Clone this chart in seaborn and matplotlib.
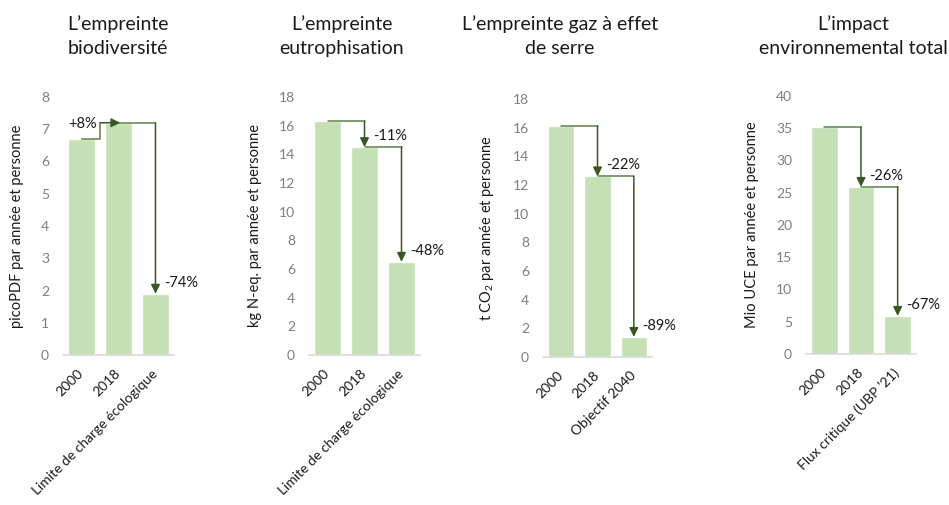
import matplotlib
matplotlib.use("Agg")
import matplotlib.pyplot as plt
import seaborn as sns
import pandas as pd

# data
cats_bio = ["2000", "2018", "Limite de charge écologique"]
vals_bio = [6.7, 7.2, 1.9]
cats_eut = ["2000", "2018", "Limite de charge écologique"]
vals_eut = [16.3, 14.5, 6.5]
cats_ghg = ["2000", "2018", "Objectif 2040"]
vals_ghg = [16.1, 12.6, 1.4]
cats_tot = ["2000", "2018", "Flux critique (UBP ’21)"]
vals_tot = [35.2, 25.9, 5.9]

pct_bio = ["+8%", "-74%"]
pct_eut = ["-11%", "-48%"]
pct_ghg = ["-22%", "-89%"]
pct_tot = ["-26%", "-67%"]

titles = ["L’empreinte\nbiodiversité", "L’empreinte\neutrophisation",
          "L’empreinte gaz à effet\nde serre", "L’impact\nenvironnemental total"]
ylabels = ["picoPDF par année et personne", "kg N-eq. par année et personne",
           r"t CO$_\mathregular{2}$ par année et personne", "Mio UCE par année et personne"]
ymax = [8, 18, 18, 40]
ystep = [1, 2, 2, 5]

sns.set_theme(style="white")
plt.rcParams["font.family"] = ["Lato", "DejaVu Sans"]

BAR = "#C5E0B4"
LINE = "#5E8048"
HEAD = "#385723"

fig = plt.figure(figsize=(9.49, 5.05), dpi=100)
rects = [
    [63 / 949, 0.297, 111 / 949, 0.511],
    [309 / 949, 0.297, 111 / 949, 0.511],
    [543 / 949, 0.293, 109 / 949, 0.511],
    [806 / 949, 0.299, 110 / 949, 0.511],
]
title_x = [118, 342, 560, 853]

panels = [
    (cats_bio, vals_bio, pct_bio),
    (cats_eut, vals_eut, pct_eut),
    (cats_ghg, vals_ghg, pct_ghg),
    (cats_tot, vals_tot, pct_tot),
]

for k, (cats, vals, pcts) in enumerate(panels):
    ax = fig.add_axes(rects[k])
    df = pd.DataFrame({"cat": cats, "val": vals})
    sns.barplot(data=df, x="cat", y="val", color=BAR, saturation=1,
                width=0.72, ax=ax)
    ax.set_xlim(-0.5, 2.5)
    ax.set_ylim(0, ymax[k])
    ax.set_yticks(range(0, ymax[k] + 1, ystep[k]))
    ax.set_xlabel("")
    ax.set_ylabel(ylabels[k], fontsize=10.5, color="#1a1a1a", labelpad=12)
    for s in ["top", "right", "left"]:
        ax.spines[s].set_visible(False)
    ax.spines["bottom"].set_color("#D9D9D9")
    ax.spines["bottom"].set_linewidth(1.2)
    ax.tick_params(axis="y", length=0, labelsize=10, labelcolor="#7F7F7F", pad=10)
    ax.tick_params(axis="x", length=0, labelsize=10, labelcolor="#1a1a1a", pad=12)
    for lab in ax.get_xticklabels():
        lab.set_rotation(45)
        lab.set_ha("right")
        lab.set_va("center")
        lab.set_rotation_mode("anchor")

    # connectors between bars
    for i in range(2):
        v0, v1 = vals[i], vals[i + 1]
        if v1 > v0:
            ax.plot([i, i + 0.5, i + 0.5], [v0, v0, v1], color=LINE, lw=1.1,
                    solid_capstyle="butt", zorder=3)
            ax.annotate("", xy=(i + 1.05, v1), xytext=(i + 0.5, v1),
                        arrowprops=dict(arrowstyle="-|>,head_length=0.45,head_width=0.22",
                                        color=HEAD, lw=1.1, shrinkA=0, shrinkB=0),
                        zorder=4)
            ax.annotate(pcts[i], xy=(i + 0.5, v1), xytext=(-2, -1),
                        textcoords="offset points", ha="right", va="center",
                        fontsize=10.5, color="#1a1a1a")
        else:
            ax.plot([i, i + 1], [v0, v0], color=LINE, lw=1.1, zorder=3)
            ax.annotate("", xy=(i + 1, v1), xytext=(i + 1, v0),
                        arrowprops=dict(arrowstyle="-|>,head_length=0.45,head_width=0.22",
                                        color=HEAD, lw=1.1, shrinkA=0, shrinkB=0),
                        zorder=4)
            ax.annotate(pcts[i], xy=(i + 1, v1), xytext=(6, 8),
                        textcoords="offset points", ha="left", va="center",
                        fontsize=10.5, color="#1a1a1a")

    fig.text(title_x[k] / 949, 1 - 36 / 505, titles[k], ha="center", va="center",
             fontsize=14, color="#1a1a1a", linespacing=1.5)

fig.savefig("out.png", dpi=100)
